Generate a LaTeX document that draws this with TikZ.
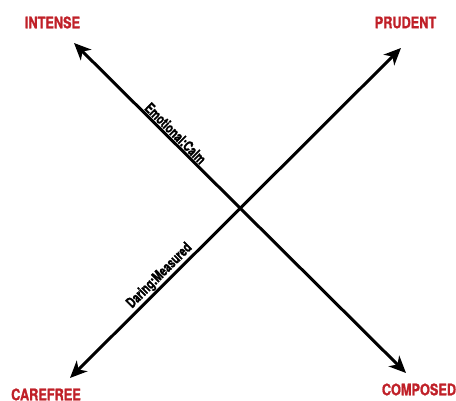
\documentclass[tikz,border=0pt]{standalone}
\usepackage{fontspec}
\newfontfamily\condfont{TeX Gyre Heros}[FakeStretch=0.8, BoldFeatures={FakeBold=1.2}]
\newfontfamily\narrowfont{TeX Gyre Heros}[FakeStretch=0.72, BoldFeatures={FakeBold=1.2}]
\usepackage{tikz}
\usetikzlibrary{arrows.meta,positioning}
\definecolor{poleRed}{RGB}{192,32,40}
\tikzset{
  >=Stealth,
  every node/.append style={font=\condfont\bfseries},
}

\begin{document}
\begin{tikzpicture}[x=1pt, y=1pt,
  pole/.style={text=poleRed, font=\condfont\bfseries\fontsize{15.9}{18}\selectfont, inner sep=0pt},
  axis/.style={{Stealth[length=17pt,width=15pt,inset=5pt]}-{Stealth[length=17pt,width=15pt,inset=5pt]},
               line width=3pt, draw=black},
  axislabel/.style={font=\narrowfont\bfseries\fontsize{14.5}{16}\selectfont, sloped, above, inner sep=0.6pt}
]
\useasboundingbox (0,0) rectangle (456,401);

% Pole labels in the corners
\node[pole] (intense) at (52.5,378.5) {INTENSE};
\node[pole] (prudent) at (405.5,378.5) {PRUDENT};
\node[pole] (carefree) at (46,6.5) {CAREFREE};
\node[pole] (composed) at (419,11.5) {COMPOSED};

% Arrow ends next to the poles
\coordinate (intenseEnd) at (74,358);
\coordinate (composedEnd) at (406,28);
\coordinate (carefreeEnd) at (70,23);
\coordinate (prudentEnd) at (401,353);

% Two crossing axes
\draw[axis] (intenseEnd) -- node[axislabel, pos=0.29] {Emotional:Calm} (composedEnd);
\draw[axis] (carefreeEnd) -- node[axislabel, pos=0.29] {Daring:Measured} (prudentEnd);

\end{tikzpicture}
\end{document}
